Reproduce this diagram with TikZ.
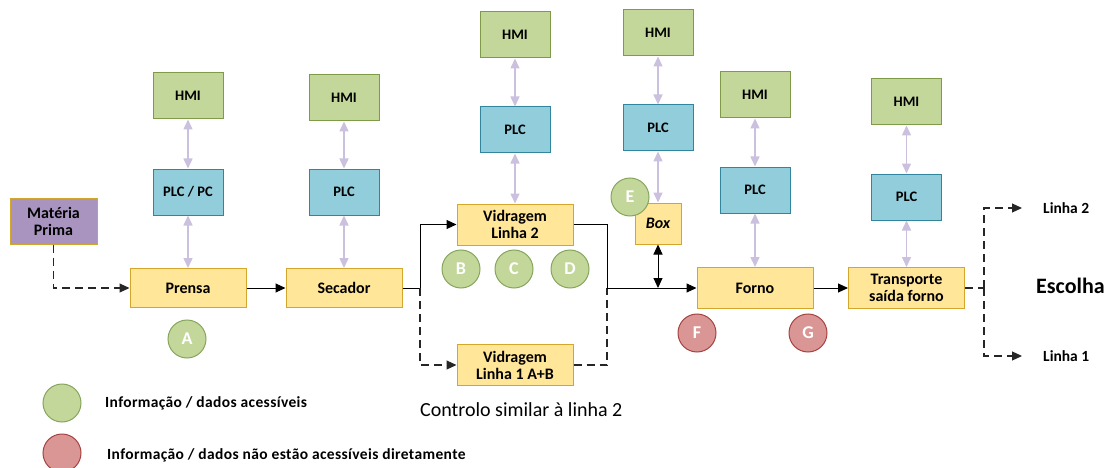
\documentclass[tikz,border=0pt]{standalone}
\usepackage{fontspec}
\setmainfont{Carlito}
\usetikzlibrary{arrows.meta}

\definecolor{procfill}{HTML}{FFE699}
\definecolor{procdraw}{HTML}{D4A72C}
\definecolor{plcfill}{HTML}{92CDDC}
\definecolor{plcdraw}{HTML}{31859C}
\definecolor{hmifill}{HTML}{C4D79B}
\definecolor{hmidraw}{HTML}{7E9B48}
\definecolor{rawfill}{HTML}{A894BF}
\definecolor{okfill}{HTML}{C4D79B}
\definecolor{okdraw}{HTML}{86A55C}
\definecolor{nofill}{HTML}{D99694}
\definecolor{nodraw}{HTML}{A6423F}
\definecolor{link}{HTML}{CBC0DE}

\tikzset{
  proc/.style={draw=procdraw, fill=procfill, line width=1pt, minimum width=116, minimum height=39,
    inner sep=1pt, align=center, font=\fontsize{16}{17}\selectfont\bfseries},
  plcbox/.style={draw=plcdraw, fill=plcfill, line width=1pt, minimum width=70, minimum height=46,
    inner sep=1pt, font=\fontsize{14.5}{15}\selectfont\bfseries},
  hmibox/.style={draw=hmidraw, fill=hmifill, line width=1pt, minimum width=70, minimum height=46,
    inner sep=1pt, font=\fontsize{14.5}{15}\selectfont\bfseries},
  okdot/.style={circle, draw=okdraw, fill=okfill, line width=1pt, minimum size=38, inner sep=0pt,
    text=white, font=\fontsize{18}{18}\selectfont\bfseries},
  nodot/.style={circle, draw=nodraw, fill=nofill, line width=1pt, minimum size=38, inner sep=0pt,
    text=white, font=\fontsize{18}{18}\selectfont\bfseries},
  comm/.style={draw=link, line width=1.5pt, {Triangle[width=9,length=10]}-{Triangle[width=9,length=10]}},
  flow/.style={draw=black, line width=1pt, -{Triangle[width=9,length=10]}},
  plain/.style={draw=black, line width=1pt},
  alt/.style={draw=black!85, line width=1.1pt, dash pattern=on 8pt off 5pt},
  altflow/.style={alt, -{Triangle[width=9,length=10]}},
  legend/.style={anchor=west, inner sep=0pt,
    font=\fontsize{15.5}{16}\selectfont\bfseries\addfontfeature{LetterSpace=2.4}},
  endlabel/.style={anchor=west, inner sep=0pt, font=\fontsize{15.5}{16}\selectfont\bfseries},
}

\begin{document}
\begin{tikzpicture}[x=1pt, y=-1pt]
\useasboundingbox (0,0) rectangle (1111,468);

% raw material
\node[draw=procdraw, fill=rawfill, line width=1pt, minimum width=87, minimum height=46, inner sep=1pt,
  align=center, font=\fontsize{16}{17}\selectfont\bfseries] (mp) at (53.5,221) {Matéria\\Prima};

% process line
\node[proc] (prensa) at (188,288) {Prensa};
\node[proc] (secador) at (344,288) {Secador};
\node[proc, minimum height=41] (v2) at (515,224.5) {Vidragem\\Linha 2};
\node[proc, minimum height=41] (v1) at (515,365) {Vidragem\\Linha 1 A+B};
\node[proc, minimum width=46, minimum height=41, font=\fontsize{16}{17}\selectfont\bfseries\itshape] (box) at (658,223.5) {Box};
\node[proc, minimum height=41] (forno) at (755,288) {Forno};
\node[proc, minimum height=41] (transp) at (906.5,288) {Transporte\\saída forno};

% control stacks
\node[hmibox] (hmi1) at (188,96) {HMI};
\node[plcbox] (plc1) at (188,192) {PLC / PC};
\node[hmibox] (hmi2) at (344,98) {HMI};
\node[plcbox] (plc2) at (344,192) {PLC};
\node[hmibox] (hmi3) at (515,35) {HMI};
\node[plcbox] (plc3) at (515,130) {PLC};
\node[hmibox] (hmi4) at (658,33) {HMI};
\node[plcbox] (plc4) at (658,128) {PLC};
\node[hmibox] (hmi5) at (755,95) {HMI};
\node[plcbox] (plc5) at (755,190) {PLC};
\node[hmibox] (hmi6) at (906.5,102) {HMI};
\node[plcbox] (plc6) at (906.5,197) {PLC};

\foreach \i/\p in {1/prensa,2/secador,3/v2,4/box,5/forno,6/transp}{
  \draw[comm] (hmi\i) -- (plc\i);
  \draw[comm] (plc\i) -- (\p);
}

% data points
\node[okdot] (a) at (187,339) {A};
\node[okdot] (b) at (461,269) {B};
\node[okdot] (c) at (514,269) {C};
\node[okdot] (d) at (570,269) {D};
\node[okdot] (e) at (630,197) {E};
\node[nodot] (f) at (697,333) {F};
\node[nodot] (g) at (808,333) {G};

% material flow
\draw[altflow] (mp.south) |- (prensa.west);
\draw[flow] (prensa) -- (secador);
\coordinate (split) at (420,288);
\coordinate (merge) at (607,288);
\draw[plain] (secador.east) -- (split);
\draw[flow] (split) |- (v2.west);
\draw[altflow] (split) |- (v1.west);
\draw[plain] (v2.east) -| (merge);
\draw[alt] (v1.east) -| (merge);
\draw[flow] (merge) -- (forno.west);
\coordinate (boxjoin) at (box.south |- merge);
\draw[plain, {Triangle[width=9,length=10]}-{Triangle[width=9,length=10]}] (box.south) -- (boxjoin);
\draw[flow] (forno) -- (transp);

% sorting at the exit
\coordinate (sel) at (984,288);
\coordinate (l2tip) at (1022,208);
\coordinate (l1tip) at (1022,356);
\node[endlabel] (linha2) at (1043,208) {Linha 2};
\node[endlabel] (linha1) at (1043,356) {Linha 1};
\node[anchor=west, inner sep=0pt, font=\fontsize{22}{24}\selectfont\bfseries] (escolha) at (1036,286) {Escolha};
\draw[alt] (transp.east) -- (sel);
\draw[altflow] (sel) |- (l2tip);
\draw[altflow] (sel) |- (l1tip);

% note under line 1
\node[anchor=west, inner sep=0pt, font=\fontsize{20}{21}\selectfont] (note) at (420,410) {Controlo similar à linha 2};

% legend
\node[okdot] (legok) at (62,403) {};
\node[nodot] (legno) at (62,453) {};
\node[legend] (txtok) at (105,403) {Informação / dados acessíveis};
\node[legend] (txtno) at (107,455) {Informação / dados não estão acessíveis diretamente};
\end{tikzpicture}
\end{document}
